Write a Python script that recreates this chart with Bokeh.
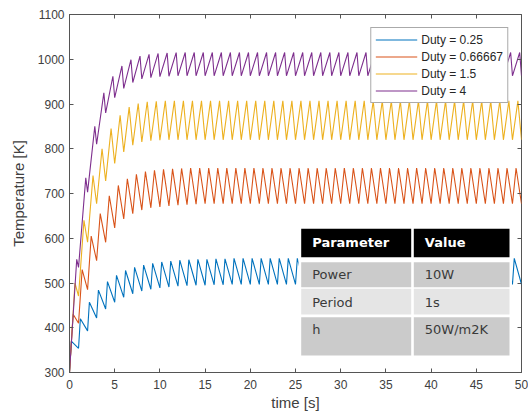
from bokeh.plotting import figure
from bokeh.models import Range1d, LinearAxis, Legend, LegendItem, FixedTicker
from bokeh.core.properties import value
from bokeh.embed import file_html
from bokeh.resources import INLINE

# ---------------- data ----------------
duty = [0.25, 0.66667, 1.5, 4]
labels = ["Duty = 0.25", "Duty = 0.66667", "Duty = 1.5", "Duty = 4"]
colors = ["#0072BD", "#D95319", "#EDB120", "#7E2F8E"]

# temperature at the start of each 1 s period (t = 0..50)  [K]
blue_trough = [300, 354, 393, 422, 442, 457, 468, 476, 482, 486,
               489, 491, 493, 494, 495, 495, 496, 496, 497, 497,
               497, 497, 497, 497, 497, 497, 497, 497, 497, 497,
               497, 497, 497, 497, 497, 497, 497, 497, 497, 497,
               497, 497, 497, 497, 497, 497, 497, 497, 497, 497,
               497]
# temperature at the end of the heating pulse of each period  [K]
blue_peak = [370, 420, 457, 484, 503, 517, 528, 535, 540, 544,
             547, 549, 551, 552, 553, 553, 554, 554, 555, 555,
             555, 555, 555, 555, 555, 555, 555, 555, 555, 555,
             555, 555, 555, 555, 555, 555, 555, 555, 555, 555,
             555, 555, 555, 555, 555, 555, 555, 555, 555, 555]

red_trough = [300, 410, 485, 550, 591, 623, 643, 655, 663, 668,
              670, 672, 674, 675, 676, 677, 677, 677, 677, 677,
              677, 677, 677, 677, 677, 677, 677, 677, 677, 677,
              677, 677, 677, 677, 677, 677, 677, 677, 677, 677,
              677, 677, 677, 677, 677, 677, 677, 677, 677, 677,
              677]
red_peak = [430, 530, 605, 655, 695, 718, 733, 743, 749, 752,
            754, 755, 756, 757, 757, 757, 757, 757, 757, 757,
            757, 757, 757, 757, 757, 757, 757, 757, 757, 757,
            757, 757, 757, 757, 757, 757, 757, 757, 757, 757,
            757, 757, 757, 757, 757, 757, 757, 757, 757, 757]

yellow_trough = [300, 471, 591, 677, 728, 767, 793, 808, 815, 818,
                 819, 820, 820, 820, 820, 820, 820, 820, 820, 820,
                 820, 820, 820, 820, 820, 820, 820, 820, 820, 820,
                 820, 820, 820, 820, 820, 820, 820, 820, 820, 820,
                 820, 820, 820, 820, 820, 820, 820, 820, 820, 820,
                 820]
yellow_peak = [500, 640, 740, 800, 845, 875, 893, 901, 905, 906,
               907, 907, 907, 907, 907, 907, 907, 907, 907, 907,
               907, 907, 907, 907, 907, 907, 907, 907, 907, 907,
               907, 907, 907, 907, 907, 907, 907, 907, 907, 907,
               907, 907, 907, 907, 907, 907, 907, 907, 907, 907]

purple_trough = [300, 535, 703, 810, 880, 914, 935, 948, 956, 959,
                 961, 962, 963, 963, 963, 963, 963, 963, 963, 963,
                 963, 963, 963, 963, 963, 963, 963, 963, 963, 963,
                 963, 963, 963, 963, 963, 963, 963, 963, 963, 963,
                 963, 963, 963, 963, 963, 963, 963, 963, 963, 963,
                 963]
purple_peak = [553, 735, 850, 925, 962, 985, 999, 1007, 1011, 1013,
               1014, 1015, 1015, 1015, 1015, 1015, 1015, 1015, 1015, 1015,
               1015, 1015, 1015, 1015, 1015, 1015, 1015, 1015, 1015, 1015,
               1015, 1015, 1015, 1015, 1015, 1015, 1015, 1015, 1015, 1015,
               1015, 1015, 1015, 1015, 1015, 1015, 1015, 1015, 1015, 1015]

troughs = [blue_trough, red_trough, yellow_trough, purple_trough]
peaks = [blue_peak, red_peak, yellow_peak, purple_peak]

x_ticks = [0, 5, 10, 15, 20, 25, 30, 35, 40, 45, 50]
y_ticks = [300, 400, 500, 600, 700, 800, 900, 1000, 1100]

table_params = ["Parameter", "Power", "Period", "h"]
table_values = ["Value", "10W", "1s", "50W/m2K"]

# ---------------- figure ----------------
W, H = 528, 417
ML, MR, MT, MB = 69, 7, 14, 45
XMIN, XMAX, YMIN, YMAX = 0, 50, 300, 1100

p = figure(width=W, height=H, output_backend="svg", toolbar_location=None,
           x_range=Range1d(XMIN, XMAX), y_range=Range1d(YMIN, YMAX),
           min_border_left=ML, min_border_right=MR, min_border_top=MT,
           min_border_bottom=MB)
p.background_fill_color = "white"
p.border_fill_color = "white"
p.outline_line_color = "#555555"
p.outline_line_width = 1
p.xgrid.visible = False
p.ygrid.visible = False

AX = "#555555"
TX = "#404040"
FONT = "Liberation Sans"

for ax, ticks in ((p.xaxis[0], x_ticks), (p.yaxis[0], y_ticks)):
    ax.ticker = FixedTicker(ticks=ticks)
    ax.major_tick_in = 4
    ax.major_tick_out = 0
    ax.minor_tick_line_color = None
    ax.axis_line_color = AX
    ax.major_tick_line_color = AX
    ax.major_label_text_font = FONT
    ax.major_label_text_font_size = "12px"
    ax.major_label_text_color = TX
    ax.axis_label_text_font = FONT
    ax.axis_label_text_font_size = "15px"
    ax.axis_label_text_font_style = "normal"
    ax.axis_label_text_color = TX

p.xaxis.axis_label = "time [s]"
p.yaxis.axis_label = "Temperature [K]"
p.xaxis.major_label_standoff = 7
p.xaxis.axis_label_standoff = 2
p.yaxis.major_label_standoff = 5
p.yaxis.axis_label_standoff = 8

for loc, ticks in (("above", x_ticks), ("right", y_ticks)):
    a = LinearAxis(ticker=FixedTicker(ticks=ticks),
                   major_label_text_font_size="0px", major_label_standoff=0,
                   major_label_text_color=None,
                   major_tick_in=4, major_tick_out=0,
                   minor_tick_line_color=None, axis_line_color=None,
                   major_tick_line_color=AX)
    p.add_layout(a, loc)

# ---------------- curves ----------------
items = []
for d, lab, col, tr, pk in zip(duty, labels, colors, troughs, peaks):
    f = d / (1.0 + d)          # heating fraction of the 1 s period
    xs, ys = [], []
    for k in range(len(pk)):
        xs += [k, k + f]
        ys += [tr[k], pk[k]]
    xs.append(len(pk))
    ys.append(tr[len(pk)])
    r = p.line(xs, ys, line_color=col, line_width=1.1)
    items.append(LegendItem(label=lab, renderers=[r]))

# ---------------- parameter table (pixel layout -> data coords) ----------------
fw = W - ML - MR
fh = H - MT - MB

def dx(px):
    return XMIN + (px - ML) / fw * (XMAX - XMIN)

def dy(py):
    return YMIN + (MT + fh - py) / fh * (YMAX - YMIN)

col_edges = [(300.7, 410.7), (413.3, 509.0)]
row_edges = [(228.3, 256.7), (261.7, 286.7), (288.3, 314.0), (316.7, 355.0)]
row_fill = ["#000000", "#cbcbcb", "#e5e5e5", "#cbcbcb"]

p.quad(left=[dx(298)], right=[dx(511.5)], top=[dy(226)], bottom=[dy(357)],
       fill_color="white", line_color=None)
ql, qr, qt, qb, qc = [], [], [], [], []
for (t, b), fc in zip(row_edges, row_fill):
    for (l, r_) in col_edges:
        ql.append(dx(l)); qr.append(dx(r_)); qt.append(dy(t)); qb.append(dy(b)); qc.append(fc)
p.quad(left=ql, right=qr, top=qt, bottom=qb, fill_color=qc, line_color=None)

text_x = [311.7, 424.3]
text_y = [242.0, 274.0, 301.5, 329.0]
p.text(x=[dx(text_x[0]), dx(text_x[1])], y=[dy(text_y[0])] * 2,
       text=[table_params[0], table_values[0]],
       text_font=value("DejaVu Sans"), text_font_size=value("13px"),
       text_font_style="bold", text_color="white",
       text_baseline="middle", text_align="left")
bx, by, bt = [], [], []
for i in range(1, 4):
    bx += [dx(text_x[0]), dx(text_x[1])]
    by += [dy(text_y[i])] * 2
    bt += [table_params[i], table_values[i]]
p.text(x=bx, y=by, text=bt,
       text_font=value("DejaVu Sans"), text_font_size=value("13px"),
       text_color="#3a3a3a", text_baseline="middle", text_align="left")

# ---------------- legend ----------------
legend = Legend(items=items, location="top_right", margin=13,
                padding=4, spacing=2, glyph_width=42, glyph_height=15,
                label_height=15, label_standoff=4,
                label_text_font=FONT, label_text_font_size="12px",
                label_text_color="#262626",
                border_line_color="#555555", border_line_width=1,
                background_fill_color="white", background_fill_alpha=1)
p.add_layout(legend)

open("out.html", "w").write(file_html(p, INLINE))
